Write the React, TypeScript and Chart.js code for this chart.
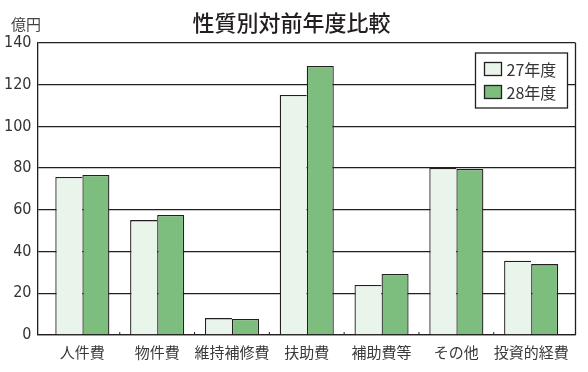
import React, { useEffect, useRef } from 'react';
import { Chart, registerables } from 'chart.js';

Chart.register(...registerables);

const chartTitle = '性質別対前年度比較';
const unitLabel = '億円';
const categories = ['人件費', '物件費', '維持補修費', '扶助費', '補助費等', 'その他', '投資的経費'];
const seriesLabels = ['27年度', '28年度'];
const values27 = [75.8, 55.1, 8.1, 115.1, 24.0, 80.1, 35.6];
const values28 = [76.7, 57.5, 7.7, 129.0, 29.3, 79.6, 34.0];
const yMin = 0;
const yMax = 140;
const yStep = 20;

const colorLight = '#e9f4ea';
const colorGreen = '#7dbd7e';
const lineColor = '#231f20';
const cjkFont = '"Noto Sans CJK JP", "Noto Sans", sans-serif';
const numFont = '"Liberation Sans Narrow", "DejaVu Sans Condensed", "Liberation Sans", sans-serif';

const decorPlugin = {
  id: 'decor',
  afterDraw(chart: any) {
    const { ctx, chartArea } = chart;
    const xs = chart.scales.x;
    ctx.save();
    // right frame line
    ctx.strokeStyle = lineColor;
    ctx.lineWidth = 1.3;
    ctx.beginPath();
    ctx.moveTo(chartArea.right, chartArea.top);
    ctx.lineTo(chartArea.right, chartArea.bottom);
    ctx.stroke();
    // small inner ticks between categories
    ctx.lineWidth = 1;
    for (let i = 0; i < categories.length - 1; i++) {
      const px = xs.getPixelForValue(i + 0.5);
      ctx.beginPath();
      ctx.moveTo(px, chartArea.bottom);
      ctx.lineTo(px, chartArea.bottom - 3);
      ctx.stroke();
    }
    // title
    ctx.fillStyle = '#231f20';
    ctx.font = `500 22px ${cjkFont}`;
    ctx.textAlign = 'center';
    ctx.textBaseline = 'middle';
    ctx.fillText(chartTitle, 291.5, 23);
    // unit
    ctx.fillStyle = '#444';
    ctx.font = `15px ${cjkFont}`;
    ctx.textAlign = 'left';
    ctx.fillText(unitLabel, 11, 24.5);
    // legend
    const bx = chartArea.right - 8 - 92;
    const by = chartArea.top + 10;
    ctx.fillStyle = '#ffffff';
    ctx.fillRect(bx, by, 92, 55);
    ctx.strokeStyle = lineColor;
    ctx.lineWidth = 1.3;
    ctx.strokeRect(bx, by, 92, 55);
    chart.data.datasets.forEach((ds: any, i: number) => {
      const cy = by + 16 + i * 23;
      ctx.fillStyle = ds.backgroundColor;
      ctx.fillRect(bx + 9, cy - 6.5, 17, 13);
      ctx.strokeRect(bx + 9, cy - 6.5, 17, 13);
      ctx.fillStyle = '#333';
      ctx.font = `16px ${cjkFont}`;
      ctx.textAlign = 'left';
      ctx.textBaseline = 'middle';
      ctx.fillText(ds.label, bx + 31, cy + 0.5);
    });
    ctx.restore();
  },
};

export default function App() {
  const ref = useRef<HTMLCanvasElement>(null);
  useEffect(() => {
    if (!ref.current) return;
    const chart = new Chart(ref.current, {
      type: 'bar',
      data: {
        datasets: [
          {
            label: seriesLabels[0],
            data: values27.map((v, i) => ({ x: i, y: v })),
            backgroundColor: colorLight,
            borderColor: lineColor,
            borderWidth: { top: 1.3, left: 1.3, right: 0, bottom: 0 },
            borderSkipped: false,
          },
          {
            label: seriesLabels[1],
            data: values28.map((v, i) => ({ x: i, y: v })),
            backgroundColor: colorGreen,
            borderColor: lineColor,
            borderWidth: { top: 1.3, left: 1.3, right: 1.3, bottom: 0 },
            borderSkipped: false,
          },
        ] as any,
      },
      options: {
        animation: false,
        responsive: false,
        categoryPercentage: 0.723,
        barPercentage: 1,
        layout: { padding: { top: 43, right: 12.5, left: 0, bottom: 0 } },
        plugins: {
          legend: { display: false },
          title: { display: false },
          tooltip: { enabled: false },
        },
        scales: {
          x: {
            type: 'linear',
            offset: false,
            min: -0.593,
            max: categories.length - 1 + 0.593,
            afterBuildTicks: (scale: any) => {
              scale.ticks = categories.map((_, i) => ({ value: i }));
            },
            afterFit: (scale: any) => {
              scale.height = 37;
            },
            grid: { display: false, drawTicks: false, offset: false },
            border: { display: true, color: lineColor, width: 1.3 },
            ticks: {
              autoSkip: false,
              maxRotation: 0,
              padding: 8,
              color: '#3a3a3a',
              font: { family: cjkFont, size: 15 },
              callback: (v: any) => categories[Math.round(Number(v))] ?? '',
            },
          },
          y: {
            min: yMin,
            max: yMax,
            afterFit: (scale: any) => {
              scale.width = 38;
            },
            grid: { color: lineColor, lineWidth: 1.3, drawTicks: false },
            border: { display: true, color: lineColor, width: 1.3 },
            ticks: {
              stepSize: yStep,
              padding: 6.5,
              color: '#333',
              font: { family: numFont, size: 16 },
            },
          },
        },
      } as any,
      plugins: [decorPlugin],
    });
    return () => chart.destroy();
  }, []);
  return (
    <div style={{ position: 'absolute', left: 0, top: 0, width: 588, height: 372, background: '#fff' }}>
      <canvas ref={ref} width={588} height={372} />
    </div>
  );
}
